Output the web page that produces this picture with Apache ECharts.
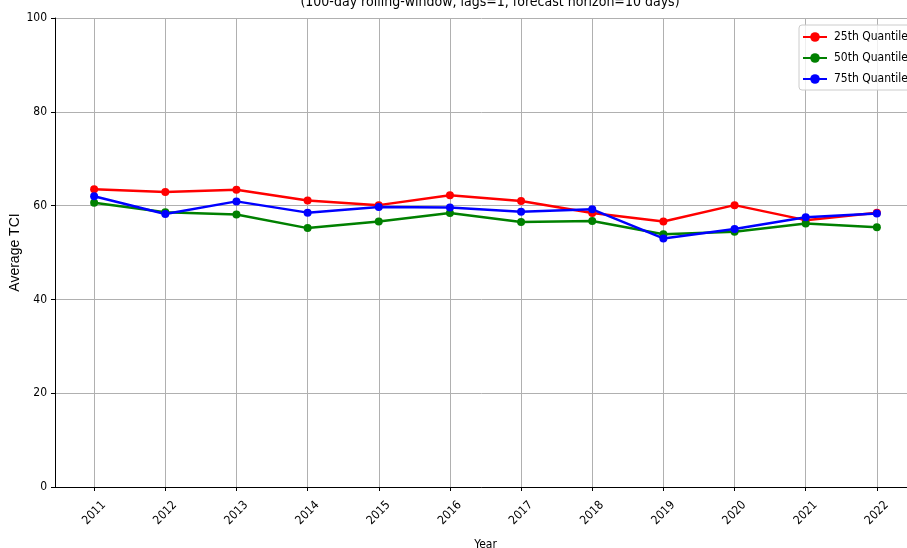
<!DOCTYPE html>
<html>
<head>
<meta charset="utf-8">
<script src="https://cdn.jsdelivr.net/npm/echarts@6/dist/echarts.min.js"></script>
<style>
  html, body { margin: 0; padding: 0; background: #fff; }
  #chart { width: 907px; height: 548px; }
</style>
</head>
<body>
<div id="chart"></div>
<script>
// values
var years = [2011, 2012, 2013, 2014, 2015, 2016, 2017, 2018, 2019, 2020, 2021, 2022];
var q25 = [63.5, 62.9, 63.4, 61.1, 60.1, 62.2, 61.0, 58.4, 56.6, 60.1, 56.9, 58.5];
var q50 = [60.6, 58.6, 58.1, 55.2, 56.6, 58.4, 56.5, 56.7, 53.9, 54.4, 56.2, 55.4];
var q75 = [62.0, 58.2, 60.9, 58.5, 59.7, 59.6, 58.7, 59.2, 53.0, 55.0, 57.5, 58.3];
var yTicks = [0, 20, 40, 60, 80, 100];

var font = '"DejaVu Sans Condensed", "DejaVu Sans", sans-serif';

function pairs(vals) {
    var out = [];
    for (var i = 0; i < years.length; i++) {
        out.push([years[i], vals[i]]);
    }
    return out;
}

function lineSeries(name, color, vals) {
    return {
        name: name,
        type: 'line',
        data: pairs(vals),
        symbol: 'circle',
        symbolSize: 8,
        color: color,
        lineStyle: { width: 2.5, color: color },
        itemStyle: { color: color },
        emphasis: { disabled: true },
        animation: false
    };
}

var myChart = echarts.init(document.getElementById('chart'), null, { renderer: 'canvas' });

var option = {
    backgroundColor: '#fff',
    animation: false,
    title: {
        text: '(100-day rolling-window, lags=1, forecast horizon=10 days)',
        left: 485,
        textAlign: 'center',
        top: -10,
        textStyle: { fontFamily: font, fontSize: 14, fontWeight: 'normal', color: '#000' }
    },
    grid: {
        left: 55,
        top: 18,
        width: 861,
        height: 469,
        containLabel: false,
        outerBoundsMode: 'none'
    },
    legend: {
        orient: 'vertical',
        left: 799,
        top: 25,
        padding: [6, 10, 5, 3],
        itemWidth: 24,
        itemHeight: 12,
        itemGap: 9,
        backgroundColor: 'rgba(255,255,255,0.8)',
        borderColor: '#cccccc',
        borderWidth: 1,
        borderRadius: 3,
        textStyle: { fontFamily: font, fontSize: 12, color: '#000', padding: [0, 0, 0, 2] },
        data: ['25th Quantile', '50th Quantile', '75th Quantile']
    },
    xAxis: {
        type: 'value',
        min: 2010.45,
        max: 2022.55,
        name: 'Year',
        nameLocation: 'middle',
        nameGap: 52,
        nameTextStyle: { fontFamily: font, fontSize: 12, color: '#000' },
        axisLine: { show: true, onZero: false, lineStyle: { color: '#000', width: 1 } },
        axisTick: { show: true, length: 4, customValues: years, lineStyle: { color: '#000' } },
        axisLabel: {
            customValues: years,
            rotate: 45,
            margin: 26,
            align: 'center',
            verticalAlign: 'middle',
            fontFamily: font,
            fontSize: 12,
            color: '#000',
            formatter: function(v) { return String(v); }
        },
        splitLine: { show: true, lineStyle: { color: '#b0b0b0', width: 1 } }
    },
    yAxis: {
        type: 'value',
        min: 0,
        max: 100,
        interval: 20,
        name: 'Average TCI',
        nameLocation: 'middle',
        nameGap: 33,
        nameMoveOverlap: false,
        nameTextStyle: { fontFamily: '"Liberation Sans", sans-serif', fontSize: 14, color: '#000' },
        axisLine: { show: true, lineStyle: { color: '#000', width: 1 } },
        axisTick: { show: true, length: 4, lineStyle: { color: '#000' } },
        axisLabel: {
            margin: 8,
            fontFamily: font,
            fontSize: 12,
            color: '#000',
            formatter: function(v) { return yTicks.indexOf(v) >= 0 ? String(v) : ''; }
        },
        splitLine: { show: true, lineStyle: { color: '#b0b0b0', width: 1 } }
    },
    series: [
        lineSeries('25th Quantile', '#ff0000', q25),
        lineSeries('50th Quantile', '#008000', q50),
        lineSeries('75th Quantile', '#0000ff', q75)
    ]
};

myChart.setOption(option);
</script>
</body>
</html>
